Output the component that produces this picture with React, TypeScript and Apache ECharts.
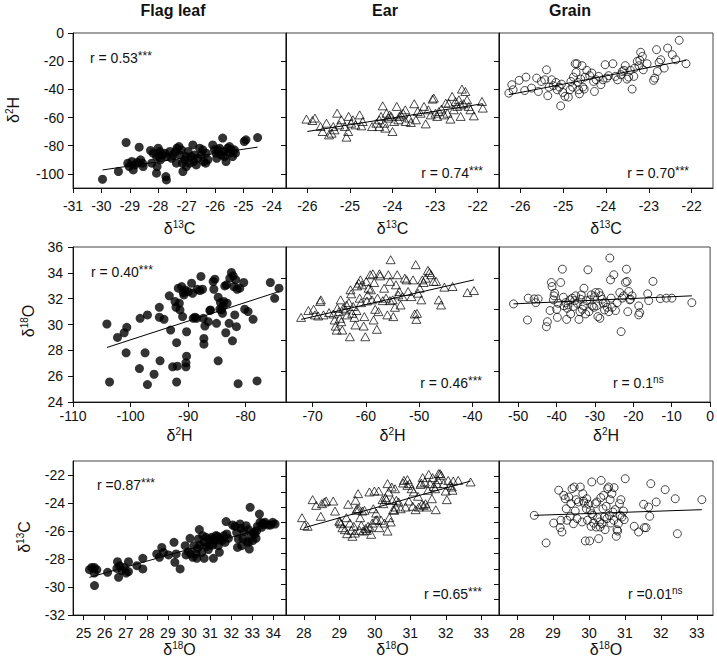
import React, { useEffect, useRef } from "react";
import * as echarts from "echarts";

const FONT = '"Liberation Sans", Arial, Helvetica, sans-serif';

const organs = ["Flag leaf", "Ear", "Grain"];

// ---------- Row 1: δ2H (y) vs δ13C (x) ----------
const flagLeafC13H2 = [
  [-29.96, -103.8], [-29.4, -98.3], [-29.13, -77.7], [-29.07, -92.4], [-29.02, -94.8], [-28.93, -91.2],
  [-28.88, -97.2], [-28.82, -93.6], [-28.74, -91.9], [-28.67, -81.0], [-28.62, -90.0], [-28.55, -92.4],
  [-28.53, -94.8], [-28.27, -83.4], [-28.23, -92.4], [-28.18, -85.3], [-28.06, -99.5], [-28.06, -87.7],
  [-28.04, -94.8], [-28.0, -81.8], [-27.97, -87.7], [-27.94, -84.1], [-27.92, -90.0], [-27.85, -86.5],
  [-27.77, -85.3], [-27.73, -101.9], [-27.71, -104.3], [-27.71, -87.7], [-27.59, -84.1], [-27.53, -88.9],
  [-27.48, -86.5], [-27.38, -84.1], [-27.36, -92.4], [-27.34, -81.8], [-27.27, -80.6], [-27.24, -86.5],
  [-27.18, -82.9], [-27.15, -92.4], [-27.13, -98.3], [-27.07, -90.0], [-27.01, -87.7], [-27.01, -94.8],
  [-26.95, -84.1], [-26.89, -92.4], [-26.83, -87.7], [-26.78, -79.4], [-26.75, -91.2], [-26.72, -86.5],
  [-26.66, -93.6], [-26.6, -88.9], [-26.54, -81.8], [-26.48, -86.5], [-26.43, -82.9], [-26.4, -91.2],
  [-26.33, -92.4], [-26.31, -85.3], [-26.25, -90.0], [-26.08, -79.4], [-26.02, -82.9], [-25.96, -85.3],
  [-25.94, -88.9], [-25.9, -82.9], [-25.84, -81.8], [-25.78, -86.5], [-25.73, -74.6], [-25.7, -84.1],
  [-25.67, -87.7], [-25.61, -91.2], [-25.55, -81.8], [-25.49, -85.3], [-25.49, -80.6], [-25.43, -82.9],
  [-25.38, -87.7], [-25.32, -82.9], [-25.28, -85.3], [-24.97, -77.0], [-24.91, -75.8], [-24.5, -74.2],
];
const flagLeafC13H2Fit = [[-29.96, -97.2], [-24.5, -81.0]];

const earC13H2 = [
  [-26.02, -61.1], [-25.88, -62.1], [-25.82, -60.4], [-25.69, -66.4], [-25.55, -64.0], [-25.64, -69.9],
  [-25.49, -72.3], [-25.43, -71.1], [-25.39, -66.4], [-25.36, -68.7], [-25.3, -56.9], [-25.25, -65.2],
  [-25.2, -61.6], [-25.12, -66.4], [-25.08, -73.9], [-25.04, -69.9], [-25.03, -59.2], [-24.97, -64.0],
  [-24.93, -61.6], [-24.87, -65.2], [-24.77, -58.1], [-24.73, -65.9], [-24.7, -62.8], [-24.48, -66.4],
  [-24.38, -64.0], [-24.31, -66.4], [-24.31, -61.6], [-24.27, -59.2], [-24.23, -51.7], [-24.19, -64.0],
  [-24.17, -67.5], [-24.14, -56.9], [-24.09, -60.4], [-24.07, -58.1], [-24.03, -59.2], [-24.0, -69.9],
  [-23.96, -62.8], [-23.9, -52.1], [-23.86, -61.6], [-23.84, -59.2], [-23.8, -58.1], [-23.75, -56.9],
  [-23.7, -54.5], [-23.69, -62.8], [-23.61, -60.4], [-23.57, -63.5], [-23.49, -50.2], [-23.45, -61.6],
  [-23.41, -55.7], [-23.34, -56.9], [-23.26, -52.1], [-23.22, -64.5], [-23.16, -54.5], [-23.1, -58.1],
  [-23.06, -46.9], [-23.03, -46.2], [-22.99, -56.9], [-22.95, -59.2], [-22.91, -55.7], [-22.85, -54.0],
  [-22.79, -58.1], [-22.75, -49.8], [-22.71, -56.9], [-22.68, -49.8], [-22.64, -61.1], [-22.6, -45.0],
  [-22.56, -54.5], [-22.52, -48.6], [-22.48, -52.1], [-22.44, -47.4], [-22.4, -59.2], [-22.4, -51.0],
  [-22.37, -39.8], [-22.33, -50.2], [-22.29, -41.5], [-22.25, -47.4], [-22.21, -52.1], [-22.17, -54.5],
  [-22.09, -58.8], [-21.9, -48.6], [-21.88, -53.3],
];
const earC13H2Fit = [[-26.0, -69.9], [-21.88, -50.2]];

const grainC13H2 = [
  [-26.27, -42.7], [-26.2, -36.7], [-26.17, -40.3], [-26.03, -33.6], [-25.9, -40.8], [-25.87, -31.3],
  [-25.74, -39.1], [-25.62, -32.0], [-25.58, -41.5], [-25.51, -34.4], [-25.43, -33.2], [-25.39, -26.1],
  [-25.36, -44.5], [-25.33, -38.4], [-25.27, -33.2], [-25.23, -37.4], [-25.17, -35.1], [-25.14, -40.3],
  [-25.09, -38.4], [-25.06, -51.7], [-25.04, -36.3], [-25.01, -42.2], [-24.96, -45.0], [-24.88, -45.5],
  [-24.84, -40.3], [-24.82, -34.4], [-24.78, -38.4], [-24.76, -31.3], [-24.72, -21.8], [-24.7, -28.0],
  [-24.68, -21.8], [-24.66, -35.1], [-24.64, -40.3], [-24.62, -43.1], [-24.59, -32.7], [-24.56, -23.2],
  [-24.54, -38.4], [-24.51, -39.8], [-24.49, -31.3], [-24.45, -26.5], [-24.38, -30.3], [-24.33, -28.4],
  [-24.29, -34.4], [-24.27, -41.5], [-24.23, -33.2], [-24.17, -30.8], [-24.12, -36.7], [-24.07, -33.2],
  [-24.02, -22.5], [-23.98, -32.0], [-23.94, -30.3], [-23.84, -21.8], [-23.78, -30.8], [-23.73, -33.2],
  [-23.65, -29.6], [-23.62, -27.3], [-23.58, -26.5], [-23.55, -23.2], [-23.51, -32.7], [-23.47, -31.3],
  [-23.43, -26.5], [-23.39, -39.8], [-23.35, -30.8], [-23.33, -24.9], [-23.27, -20.1], [-23.23, -23.2],
  [-23.21, -19.4], [-23.19, -13.7], [-23.15, -16.6], [-23.13, -26.1], [-23.04, -21.8], [-22.89, -33.6],
  [-22.86, -32.0], [-22.82, -11.8], [-22.8, -27.3], [-22.76, -20.9], [-22.72, -19.0], [-22.64, -24.9],
  [-22.56, -10.7], [-22.45, -15.4], [-22.37, -19.0], [-22.29, -5.2], [-22.13, -21.8],
];
const grainC13H2Fit = [[-26.27, -43.8], [-22.13, -19.4]];

// ---------- Row 2: δ18O (y) vs δ2H (x) ----------
const flagLeafH2O18 = [
  [-104.11, 30.04], [-103.65, 25.55], [-102.27, 29.0], [-101.11, 29.36], [-100.65, 29.78], [-100.77, 27.81],
  [-98.34, 30.48], [-98.46, 26.59], [-97.48, 27.81], [-97.07, 30.74], [-97.07, 25.35], [-95.92, 26.15],
  [-95.0, 31.33], [-94.88, 27.19], [-95.0, 30.56], [-94.19, 30.4], [-93.27, 32.22], [-93.04, 29.57],
  [-92.69, 26.72], [-92.28, 31.78], [-92.11, 31.33], [-92.0, 25.55], [-92.0, 28.59], [-91.88, 26.77],
  [-91.71, 32.81], [-91.53, 31.65], [-91.42, 31.13], [-91.13, 32.94], [-90.96, 30.61], [-90.84, 32.47],
  [-90.73, 32.29], [-90.55, 32.68], [-90.38, 27.03], [-90.38, 26.72], [-90.27, 27.55], [-90.27, 29.44],
  [-89.98, 32.55], [-89.4, 33.2], [-89.23, 32.42], [-89.11, 30.48], [-88.82, 30.56], [-88.53, 30.48],
  [-88.42, 32.73], [-87.96, 32.63], [-87.78, 33.72], [-87.5, 32.73], [-87.38, 30.48], [-87.09, 29.88],
  [-87.26, 28.92], [-87.26, 28.48], [-86.51, 30.22], [-86.23, 31.08], [-86.11, 31.13], [-85.65, 33.33],
  [-85.53, 32.73], [-85.36, 33.51], [-85.07, 30.09], [-84.78, 32.11], [-84.78, 27.19], [-84.5, 31.18],
  [-84.38, 31.7], [-84.21, 31.13], [-84.03, 30.87], [-83.92, 31.44], [-83.8, 31.78], [-83.63, 32.99],
  [-83.46, 29.36], [-83.34, 33.07], [-83.23, 31.65], [-82.88, 30.09], [-82.76, 33.59], [-82.48, 34.03],
  [-82.3, 28.74], [-82.19, 33.77], [-82.07, 32.94], [-81.9, 30.74], [-81.72, 33.46], [-81.61, 29.83],
  [-81.49, 32.73], [-81.32, 25.42], [-81.03, 32.81], [-80.34, 33.25], [-80.17, 31.18], [-79.59, 31.0],
  [-78.72, 30.4], [-78.03, 25.63], [-75.72, 33.25], [-74.97, 32.03], [-74.22, 32.81],
];
const flagLeafH2O18Fit = [[-104.11, 28.22], [-74.22, 32.55]];

const earH2O18 = [
  [-72.16, 29.46], [-70.8, 29.9], [-69.81, 29.98], [-69.57, 29.62], [-68.95, 29.55], [-68.58, 30.48],
  [-68.45, 30.59], [-67.96, 29.62], [-66.91, 29.77], [-66.1, 29.68], [-65.86, 29.29], [-65.67, 28.9],
  [-65.49, 28.64], [-65.36, 30.05], [-65.05, 29.83], [-64.87, 29.4], [-64.74, 30.59], [-64.62, 29.18],
  [-64.43, 28.64], [-64.25, 30.05], [-63.82, 29.94], [-63.63, 30.26], [-63.51, 29.62], [-63.2, 30.41],
  [-63.01, 28.21], [-62.89, 31.24], [-62.76, 30.98], [-62.58, 29.72], [-62.39, 30.16], [-62.15, 29.46],
  [-61.96, 28.97], [-61.77, 29.9], [-61.65, 31.49], [-61.34, 31.67], [-61.16, 30.7], [-61.03, 31.88],
  [-60.91, 30.41], [-60.72, 31.56], [-60.41, 28.9], [-60.29, 29.51], [-60.11, 28.21], [-59.92, 31.78],
  [-59.8, 30.52], [-59.67, 30.91], [-59.49, 31.34], [-59.18, 32.21], [-59.05, 31.24], [-58.87, 30.59],
  [-58.68, 32.27], [-58.56, 29.29], [-58.44, 31.71], [-58.25, 29.98], [-57.94, 28.69], [-57.82, 30.7],
  [-57.63, 29.83], [-57.45, 32.27], [-57.32, 32.14], [-56.83, 30.54], [-56.58, 31.34], [-56.21, 30.7],
  [-55.96, 29.62], [-55.78, 32.21], [-55.47, 31.78], [-55.47, 30.54], [-55.34, 33.18], [-54.97, 30.59],
  [-54.85, 29.51], [-54.54, 30.11], [-54.35, 31.56], [-54.11, 32.21], [-53.92, 30.91], [-53.74, 31.13],
  [-53.49, 30.26], [-53.12, 30.8], [-52.68, 31.99], [-52.37, 31.88], [-52.07, 31.13], [-51.45, 30.8],
  [-51.14, 31.88], [-50.83, 29.68], [-50.64, 32.86], [-50.52, 29.33], [-50.4, 29.72], [-50.21, 31.02],
  [-49.9, 31.34], [-49.59, 30.59], [-49.41, 31.88], [-49.16, 31.71], [-48.79, 31.99], [-48.35, 32.49],
  [-48.05, 32.36], [-47.74, 32.21], [-47.3, 31.78], [-46.81, 31.78], [-46.31, 30.59], [-45.88, 30.26],
  [-45.26, 31.41], [-43.72, 31.45], [-40.93, 31.06], [-39.7, 31.19],
];
const earH2O18Fit = [[-72.16, 29.33], [-39.7, 31.88]];

const grainH2O18 = [
  [-51.21, 30.33], [-47.58, 29.29], [-47.4, 30.7], [-45.85, 30.65], [-45.42, 30.41], [-44.81, 30.65],
  [-42.65, 28.86], [-42.39, 29.18], [-41.7, 29.9], [-41.35, 31.71], [-41.18, 31.45], [-40.83, 30.59],
  [-40.66, 30.85], [-40.48, 31.02], [-39.97, 29.98], [-39.79, 29.46], [-39.62, 30.37], [-38.93, 31.71],
  [-38.49, 32.57], [-38.24, 30.76], [-38.06, 30.2], [-37.63, 30.41], [-37.37, 29.33], [-37.2, 30.05],
  [-37.02, 30.26], [-36.51, 30.59], [-36.33, 29.68], [-35.9, 30.7], [-35.64, 30.16], [-35.29, 30.54],
  [-35.03, 30.85], [-34.6, 30.37], [-34.17, 29.33], [-33.91, 29.83], [-33.74, 30.63], [-33.56, 30.91],
  [-33.3, 29.98], [-33.04, 30.2], [-32.87, 31.34], [-32.44, 29.68], [-32.18, 30.54], [-31.83, 32.53],
  [-31.57, 29.83], [-31.31, 30.59], [-30.97, 30.91], [-30.71, 30.2], [-30.28, 30.11], [-30.1, 30.8],
  [-29.84, 31.06], [-29.58, 30.2], [-29.24, 29.51], [-28.98, 31.06], [-28.72, 29.4], [-28.55, 30.85],
  [-28.11, 30.63], [-27.85, 30.37], [-27.51, 29.94], [-27.25, 30.41], [-26.82, 30.11], [-26.38, 29.83],
  [-26.12, 33.29], [-25.95, 31.88], [-25.78, 30.7], [-25.52, 30.11], [-25.09, 32.21], [-24.65, 29.9],
  [-24.22, 30.41], [-23.53, 31.06], [-23.18, 28.54], [-22.92, 30.7], [-22.49, 30.85], [-22.06, 31.71],
  [-21.8, 32.57], [-21.63, 31.78], [-21.45, 29.83], [-21.19, 31.13], [-20.93, 30.59], [-20.76, 30.63],
  [-20.33, 30.85], [-18.6, 30.2], [-18.6, 29.62], [-18.34, 29.77], [-16.26, 30.98], [-16.0, 30.54],
  [-14.88, 31.78], [-12.98, 30.67], [-11.42, 30.7], [-9.95, 30.7], [-4.76, 30.41],
];
const grainH2O18Fit = [[-51.21, 30.33], [-4.76, 30.85]];

// ---------- Row 3: δ13C (y) vs δ18O (x) ----------
const flagLeafO18C13 = [
  [25.28, -28.76], [25.39, -28.6], [25.51, -28.6], [25.52, -29.9], [25.51, -29.0], [25.63, -28.76],
  [26.14, -28.95], [26.58, -28.67], [26.61, -28.19], [26.66, -29.31], [26.71, -28.48], [26.82, -28.83],
  [26.93, -28.6], [27.02, -29.0], [27.13, -28.19], [27.13, -28.9], [27.53, -28.48], [27.81, -27.95],
  [27.81, -28.71], [28.47, -27.64], [28.6, -27.88], [28.71, -27.17], [28.79, -27.52], [29.03, -27.71],
  [29.29, -26.81], [29.33, -28.24], [29.39, -27.64], [29.58, -28.71], [29.82, -27.05], [29.86, -27.71],
  [29.97, -27.48], [30.05, -26.52], [30.08, -27.64], [30.18, -27.88], [30.24, -27.05], [30.34, -27.64],
  [30.37, -27.95], [30.4, -27.24], [30.45, -26.57], [30.49, -25.9], [30.53, -27.0], [30.61, -27.52],
  [30.65, -26.33], [30.72, -26.81], [30.72, -27.95], [30.81, -26.45], [30.84, -27.1], [30.92, -27.33],
  [30.97, -26.57], [31.0, -27.0], [31.08, -26.45], [31.13, -27.0], [31.16, -27.95], [31.19, -26.62],
  [31.24, -26.69], [31.28, -26.33], [31.35, -26.38], [31.39, -27.05], [31.44, -27.52], [31.47, -26.52],
  [31.55, -26.69], [31.66, -26.33], [31.71, -26.81], [31.76, -25.33], [31.79, -26.21], [31.87, -26.52],
  [32.07, -25.57], [32.18, -25.67], [32.26, -26.1], [32.3, -27.17], [32.34, -26.57], [32.42, -25.5],
  [32.45, -25.81], [32.5, -27.05], [32.55, -26.52], [32.61, -26.05], [32.71, -25.62], [32.74, -26.76],
  [32.82, -26.81], [32.82, -25.9], [32.86, -27.29], [32.9, -24.31], [32.93, -26.29], [33.02, -26.69],
  [33.05, -26.1], [33.13, -26.21], [33.18, -26.52], [33.21, -25.98], [33.24, -25.67], [33.34, -24.79],
  [33.37, -25.38], [33.45, -25.74], [33.5, -25.43], [33.56, -25.5], [33.61, -25.38], [33.76, -25.57],
  [33.87, -25.57], [33.97, -25.38], [34.08, -25.5],
];
const flagLeafO18C13Fit = [[25.28, -29.31], [33.68, -25.74]];

const earO18C13 = [
  [27.95, -24.68], [28.02, -25.18], [28.11, -25.24], [28.25, -23.51], [28.35, -23.88], [28.48, -24.59],
  [28.51, -23.77], [28.58, -23.66], [28.63, -23.6], [28.83, -23.6], [28.88, -24.25], [29.0, -24.9],
  [29.02, -24.96], [29.05, -25.07], [29.09, -25.33], [29.16, -25.46], [29.2, -24.68], [29.22, -25.72],
  [29.25, -23.81], [29.3, -25.03], [29.34, -25.5], [29.37, -25.89], [29.41, -25.24], [29.44, -25.68],
  [29.46, -23.55], [29.48, -24.2], [29.5, -24.1], [29.53, -23.12], [29.55, -24.1], [29.57, -25.5],
  [29.59, -24.68], [29.62, -25.18], [29.65, -24.25], [29.67, -25.55], [29.71, -24.2], [29.74, -25.39],
  [29.78, -25.5], [29.81, -25.24], [29.85, -23.01], [29.87, -25.33], [29.9, -25.76], [29.93, -25.03],
  [29.96, -24.1], [29.99, -22.95], [30.02, -24.85], [30.04, -24.38], [30.06, -24.81], [30.11, -22.95],
  [30.13, -25.33], [30.18, -24.85], [30.22, -23.51], [30.24, -23.77], [30.27, -25.03], [30.3, -23.38],
  [30.33, -23.51], [30.36, -22.47], [30.36, -25.55], [30.39, -23.01], [30.41, -24.68], [30.45, -24.96],
  [30.48, -22.69], [30.5, -23.55], [30.52, -24.16], [30.55, -24.2], [30.57, -22.8], [30.59, -23.99],
  [30.61, -23.55], [30.67, -23.66], [30.73, -24.1], [30.8, -22.43], [30.82, -22.26], [30.87, -23.99],
  [30.92, -22.21], [30.92, -22.58], [30.96, -23.6], [30.98, -22.47], [31.04, -22.8], [31.07, -23.94],
  [31.1, -23.01], [31.15, -24.16], [31.22, -23.29], [31.24, -23.99], [31.29, -22.52], [31.31, -22.43],
  [31.33, -23.81], [31.35, -22.08], [31.38, -23.88], [31.41, -22.36], [31.43, -23.77], [31.47, -23.99],
  [31.5, -22.9], [31.52, -21.87], [31.56, -22.47], [31.61, -23.45], [31.63, -22.08], [31.66, -22.65],
  [31.7, -22.8], [31.72, -24.16], [31.75, -22.47], [31.78, -22.21], [31.8, -21.82], [31.84, -21.82],
  [31.87, -21.93], [31.94, -22.47], [32.0, -22.95], [32.03, -23.51], [32.07, -22.26], [32.12, -22.58],
  [32.17, -22.69], [32.19, -22.9], [32.21, -22.3], [32.35, -22.26], [32.7, -22.36],
];
const earO18C13Fit = [[28.02, -25.33], [32.7, -22.3]];

const grainO18C13 = [
  [28.48, -24.53], [28.81, -26.32], [29.02, -25.03], [29.16, -22.9], [29.2, -25.33], [29.22, -24.85],
  [29.25, -25.61], [29.3, -23.23], [29.34, -23.45], [29.37, -24.1], [29.39, -24.85], [29.44, -23.34],
  [29.48, -24.59], [29.5, -23.77], [29.53, -22.8], [29.57, -25.07], [29.59, -22.69], [29.62, -24.25],
  [29.65, -23.51], [29.67, -24.74], [29.71, -23.66], [29.76, -22.69], [29.81, -24.96], [29.83, -23.12],
  [29.85, -23.6], [29.87, -23.73], [29.9, -26.19], [29.93, -24.1], [29.94, -23.45], [29.96, -24.85],
  [29.99, -23.81], [30.02, -26.19], [30.04, -24.2], [30.06, -25.24], [30.08, -22.36], [30.08, -24.42],
  [30.11, -24.53], [30.13, -25.03], [30.18, -23.77], [30.2, -25.29], [30.22, -23.66], [30.24, -24.68],
  [30.27, -26.04], [30.3, -24.96], [30.31, -25.29], [30.33, -23.38], [30.34, -22.26], [30.36, -25.07],
  [30.39, -24.1], [30.41, -23.23], [30.43, -24.64], [30.45, -25.46], [30.48, -23.94], [30.5, -24.74],
  [30.52, -22.8], [30.55, -22.69], [30.57, -24.53], [30.59, -23.51], [30.61, -25.03], [30.64, -23.12],
  [30.67, -24.31], [30.69, -24.85], [30.7, -22.73], [30.73, -24.16], [30.76, -25.89], [30.78, -25.46],
  [30.8, -25.55], [30.82, -25.07], [30.85, -23.77], [30.87, -24.53], [30.89, -23.51], [30.92, -24.64],
  [30.96, -24.25], [30.98, -24.81], [31.01, -22.15], [31.26, -25.24], [31.38, -25.61], [31.52, -23.81],
  [31.54, -25.33], [31.59, -25.33], [31.66, -23.99], [31.69, -24.59], [31.72, -22.47], [31.87, -23.66],
  [32.12, -22.86], [32.4, -23.45], [32.46, -25.72], [33.14, -23.51],
];
const grainO18C13Fit = [[28.48, -24.53], [33.14, -24.16]];

// ---------- correlation labels ----------
const rTexts = ["r = 0.53", "r = 0.74", "r = 0.70", "r = 0.40", "r = 0.46", "r = 0.1", "r =0.87", "r =0.65", "r =0.01"];
const rSig = ["***", "***", "***", "***", "***", "ns", "***", "***", "ns"];

// ---------- axis ranges and tick labels ----------
const flagC13Range = [-31, -23.5];
const flagC13Ticks = [-31, -30, -29, -28, -27, -26, -25, -24];
const earGrainC13Range = [-26.5, -21.5];
const earGrainC13Ticks = [-26, -25, -24, -23, -22];
const row1YRange = [-110, 0];
const row1YTicks = [-100, -80, -60, -40, -20, 0];
const row1YTicksInner = [-100, -80, -60, -40, -20];

const flagH2Range = [-110, -73];
const flagH2Ticks = [-110, -100, -90, -80];
const earH2Range = [-75, -35];
const earH2Ticks = [-70, -60, -50, -40];
const grainH2Range = [-55, 0];
const grainH2Ticks = [-50, -40, -30, -20, -10, 0];
const row2FlagYRange = [24, 36];
const row2FlagYTicks = [24, 26, 28, 30, 32, 34, 36];
const row2InnerYRange = [24, 34];
const row2InnerYTicks = [26, 28, 30, 32];

const flagO18Range = [24.5, 34.6];
const flagO18Ticks = [25, 26, 27, 28, 29, 30, 31, 32, 33, 34];
const earO18Range = [27.5, 33.5];
const grainO18Range = [27.5, 33.45];
const earGrainO18Ticks = [28, 29, 30, 31, 32, 33];
const row3FlagYRange = [-32, -21];
const row3FlagYTicks = [-32, -30, -28, -26, -24, -22];
const row3InnerYRange = [-31, -21];
const row3InnerYTicks = [-30, -29, -28, -27, -26, -25, -24, -23, -22];

// ---------- layout ----------
const COLS = [[73, 213], [286, 213], [499, 214]];
const ROWS = [[33, 155], [247, 155], [461, 154]];
const Y_LABEL_MARGIN = [9, 10, 8];
const X_LABEL_MARGIN = [11, 7, 11];
const X_NAME_Y = [228, 435, 649];
const Y_NAME_POS = [[13, 110], [28, 321], [24, 537]];
const X_NAMES = [["13", "C"], ["2", "H"], ["18", "O"]];
const Y_NAMES = [["2", "H"], ["18", "O"], ["13", "C"]];
const R_POS: [number, number, string][] = [
  [90, 58, "left"], [483, 173, "right"], [689, 173, "right"],
  [91, 272, "left"], [482, 383, "right"], [613, 383, "left"],
  [97, 485, "left"], [482, 594, "right"], [628, 594, "left"],
];
const TITLE_POS = [[173, 10], [385, 10], [570, 10]];

type Panel = {
  data: number[][];
  fit: number[][];
  xRange: number[];
  xTicks: number[];
  yRange: number[];
  yTicks: number[];
};

const panels: Panel[] = [
  { data: flagLeafC13H2, fit: flagLeafC13H2Fit, xRange: flagC13Range, xTicks: flagC13Ticks, yRange: row1YRange, yTicks: row1YTicks },
  { data: earC13H2, fit: earC13H2Fit, xRange: earGrainC13Range, xTicks: earGrainC13Ticks, yRange: row1YRange, yTicks: row1YTicksInner },
  { data: grainC13H2, fit: grainC13H2Fit, xRange: earGrainC13Range, xTicks: earGrainC13Ticks, yRange: row1YRange, yTicks: row1YTicksInner },
  { data: flagLeafH2O18, fit: flagLeafH2O18Fit, xRange: flagH2Range, xTicks: flagH2Ticks, yRange: row2FlagYRange, yTicks: row2FlagYTicks },
  { data: earH2O18, fit: earH2O18Fit, xRange: earH2Range, xTicks: earH2Ticks, yRange: row2InnerYRange, yTicks: row2InnerYTicks },
  { data: grainH2O18, fit: grainH2O18Fit, xRange: grainH2Range, xTicks: grainH2Ticks, yRange: row2InnerYRange, yTicks: row2InnerYTicks },
  { data: flagLeafO18C13, fit: flagLeafO18C13Fit, xRange: flagO18Range, xTicks: flagO18Ticks, yRange: row3FlagYRange, yTicks: row3FlagYTicks },
  { data: earO18C13, fit: earO18C13Fit, xRange: earO18Range, xTicks: earGrainO18Ticks, yRange: row3InnerYRange, yTicks: row3InnerYTicks },
  { data: grainO18C13, fit: grainO18C13Fit, xRange: grainO18Range, xTicks: earGrainO18Ticks, yRange: row3InnerYRange, yTicks: row3InnerYTicks },
];

const NAME_RICH = {
  m: { fontSize: 16, fontFamily: FONT, color: "#111", lineHeight: 17 },
  s: { fontSize: 10, fontFamily: FONT, color: "#111", verticalAlign: "top", lineHeight: 10 },
};
const R_RICH = {
  t: { fontSize: 14, fontFamily: FONT, color: "#111", lineHeight: 17 },
  st: { fontSize: 12, fontFamily: FONT, color: "#111", verticalAlign: "top", lineHeight: 12 },
  ns: { fontSize: 10, fontFamily: FONT, color: "#111", verticalAlign: "top", lineHeight: 10 },
};

function buildOption() {
  const grid: any[] = [];
  const xAxis: any[] = [];
  const yAxis: any[] = [];
  const series: any[] = [];
  const graphic: any[] = [];

  panels.forEach((p, i) => {
    const r = Math.floor(i / 3);
    const c = i % 3;
    grid.push({
      left: COLS[c][0], width: COLS[c][1], top: ROWS[r][0], height: ROWS[r][1],
      show: true, borderColor: "#444", borderWidth: 1, backgroundColor: "transparent",
    });
    xAxis.push({
      type: "value", gridIndex: i, min: p.xRange[0], max: p.xRange[1],
      splitLine: { show: false },
      axisLine: { show: true, onZero: false, lineStyle: { color: "#111", width: 1 } },
      axisTick: { show: true, inside: false, length: 5, customValues: p.xTicks, lineStyle: { color: "#111", width: 1 } },
      axisLabel: { show: true, customValues: p.xTicks, margin: X_LABEL_MARGIN[r], fontSize: 14, fontFamily: FONT, color: "#111" },
    });
    yAxis.push({
      type: "value", gridIndex: i, min: p.yRange[0], max: p.yRange[1],
      splitLine: { show: false },
      axisLine: { show: true, onZero: false, lineStyle: { color: "#111", width: 1 } },
      axisTick: { show: true, inside: false, length: 5, customValues: p.yTicks, lineStyle: { color: "#111", width: 1 } },
      axisLabel: { show: c === 0, customValues: p.yTicks, margin: Y_LABEL_MARGIN[r], fontSize: 14, fontFamily: FONT, color: "#111" },
    });
    const marker =
      c === 0
        ? { symbol: "circle", symbolSize: 9, itemStyle: { color: "#000", borderWidth: 0 } }
        : c === 1
        ? { symbol: "triangle", symbolSize: [9, 8], itemStyle: { color: "rgba(0,0,0,0)", borderColor: "#000", borderWidth: 0.9 } }
        : { symbol: "circle", symbolSize: 8, itemStyle: { color: "rgba(0,0,0,0)", borderColor: "#000", borderWidth: 0.9 } };
    series.push({
      type: "scatter", xAxisIndex: i, yAxisIndex: i, data: p.data, ...marker, z: 2, silent: true,
    });
    series.push({
      type: "line", xAxisIndex: i, yAxisIndex: i, data: p.fit, symbol: "none", showSymbol: false,
      lineStyle: { color: "#000", width: 1 }, z: 3, silent: true,
    });
    const [rx, ry, ra] = R_POS[i];
    const supStyle = rSig[i] === "ns" ? "ns" : "st";
    graphic.push({
      type: "text", x: rx, y: ry, z: 10,
      style: {
        text: `{t|${rTexts[i]}}{${supStyle}|${rSig[i]}}`, rich: R_RICH, align: ra, verticalAlign: "middle",
        fontFamily: FONT, fontSize: 14, fill: "#111",
      },
    });
  });

  organs.forEach((name, c) => {
    graphic.push({
      type: "text", x: TITLE_POS[c][0], y: TITLE_POS[c][1],
      style: { text: name, align: "center", verticalAlign: "middle", fontFamily: FONT, fontSize: 16, fontWeight: "bold", fill: "#111" },
    });
  });

  for (let r = 0; r < 3; r++) {
    for (let c = 0; c < 3; c++) {
      graphic.push({
        type: "text", x: COLS[c][0] + COLS[c][1] / 2, y: X_NAME_Y[r],
        style: {
          text: `{m|δ}{s|${X_NAMES[r][0]}}{m|${X_NAMES[r][1]}}`, rich: NAME_RICH,
          align: "center", verticalAlign: "middle", fontFamily: FONT, fontSize: 16, fill: "#111",
        },
      });
    }
    graphic.push({
      type: "text", x: Y_NAME_POS[r][0], y: Y_NAME_POS[r][1], rotation: Math.PI / 2,
      style: {
        text: `{m|δ}{s|${Y_NAMES[r][0]}}{m|${Y_NAMES[r][1]}}`, rich: NAME_RICH,
        align: "center", verticalAlign: "middle", fontFamily: FONT, fontSize: 16, fill: "#111",
      },
    });
  }

  return {
    animation: false,
    backgroundColor: "#fff",
    textStyle: { fontFamily: FONT },
    grid, xAxis, yAxis, series, graphic,
  };
}

export default function App() {
  const ref = useRef<HTMLDivElement>(null);
  useEffect(() => {
    if (!ref.current) return;
    const chart = echarts.init(ref.current, null, { renderer: "svg" });
    chart.setOption(buildOption() as any);
    return () => chart.dispose();
  }, []);
  return (
    <div
      ref={ref}
      style={{ position: "absolute", left: 0, top: 0, width: 717, height: 666, background: "#fff" }}
    />
  );
}
